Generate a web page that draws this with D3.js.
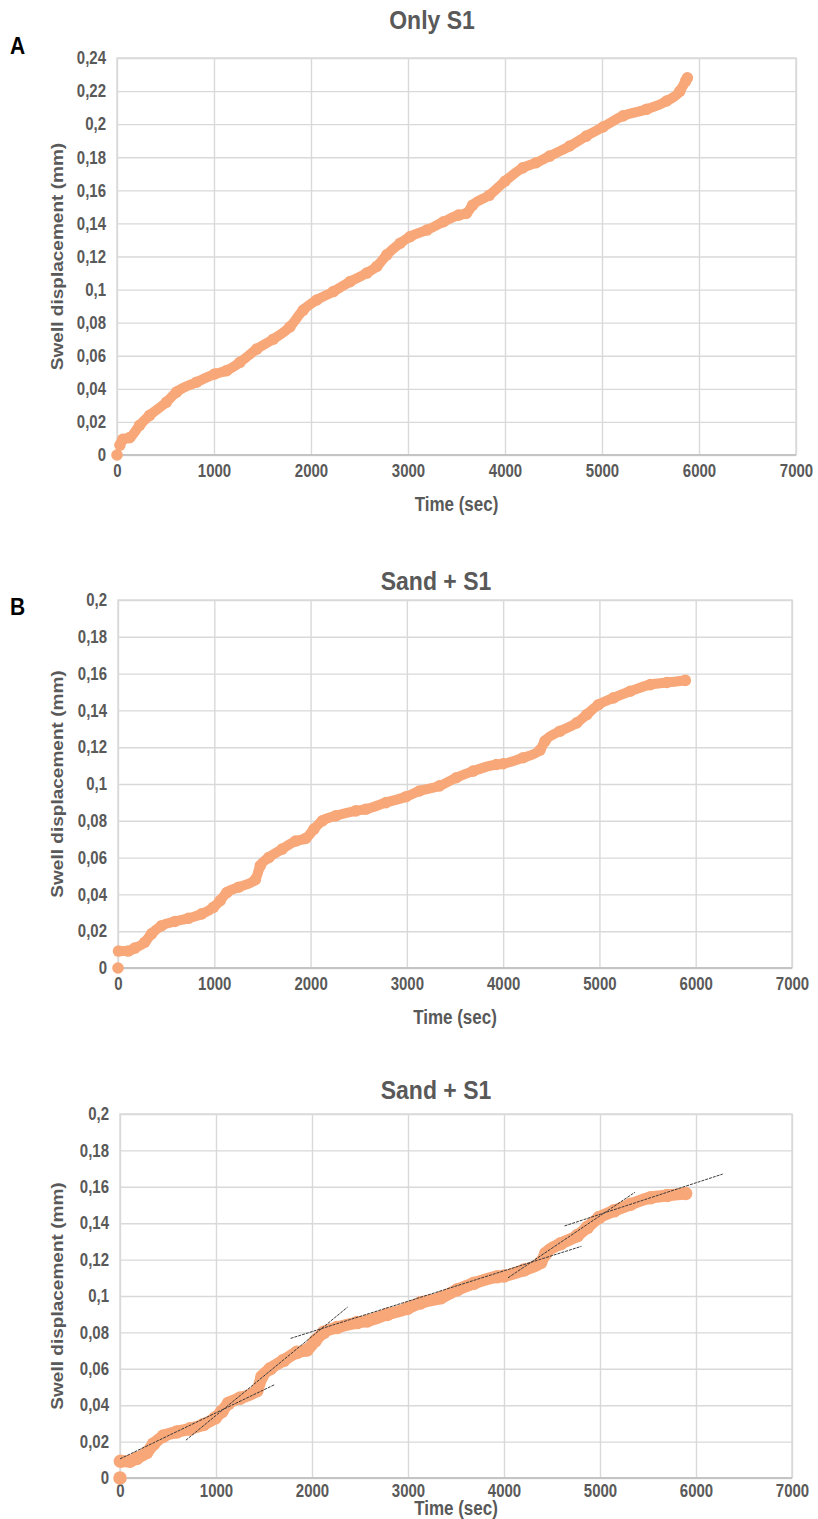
<!DOCTYPE html>
<html>
<head>
<meta charset="utf-8">
<script src="https://cdn.jsdelivr.net/npm/d3@7"></script>
<style>
  body { margin: 0; background: #fff; }
  svg text { font-family: "Liberation Sans", Arial, sans-serif; font-weight: bold; }
</style>
</head>
<body>
<svg id="chart" width="818" height="1519"></svg>
<script>
// data (time in s, swell in mm)
const timeTicks = [0, 1000, 2000, 3000, 4000, 5000, 6000, 7000]
const onlyS1Ticks = [0, 0.02, 0.04, 0.06, 0.08, 0.1, 0.12, 0.14, 0.16, 0.18, 0.2, 0.22, 0.24]
const sandS1Ticks = [0, 0.02, 0.04, 0.06, 0.08, 0.1, 0.12, 0.14, 0.16, 0.18, 0.2]

const onlyS1Time = [0, 30, 60, 130, 234, 337, 510, 613, 820, 1008, 1130, 1267, 1440, 1611, 1783, 1920,
  2059, 2230, 2403, 2575, 2678, 2781, 2919, 3022, 3194, 3366, 3521, 3600, 3666, 3838, 4000, 4183,
  4321, 4459, 4666, 4838, 5010, 5217, 5459, 5666, 5803, 5862, 5880]
const onlyS1Swell = [0, 0.006, 0.0095, 0.0105, 0.018, 0.024, 0.032, 0.038, 0.044, 0.049, 0.051, 0.056, 0.064, 0.07, 0.0775, 0.0876,
  0.0937, 0.0988, 0.1048, 0.11, 0.114, 0.121, 0.128, 0.132, 0.136, 0.141, 0.145, 0.146, 0.151, 0.157, 0.1655, 0.1736,
  0.1767, 0.1807, 0.1868, 0.1928, 0.1983, 0.205, 0.209, 0.214, 0.22, 0.226, 0.228]

const sandS1Time = [0, 5, 104, 174, 278, 348, 452, 591, 730, 870, 991, 1061, 1130, 1252, 1426, 1478, 1565,
  1704, 1843, 1948, 2035, 2122, 2261, 2470, 2574, 2783, 2991, 3130, 3339, 3513, 3687, 3930, 4000,
  4208, 4382, 4434, 4590, 4764, 4868, 4990, 5146, 5319, 5528, 5701, 5892]
const sandS1Swell = [0, 0.0092, 0.0092, 0.0108, 0.014, 0.0186, 0.023, 0.0253, 0.027, 0.0294, 0.033, 0.0366, 0.041, 0.0439, 0.048, 0.0556, 0.06,
  0.0646, 0.069, 0.0704, 0.0755, 0.08, 0.0827, 0.0854, 0.0863, 0.0899, 0.0931, 0.0962, 0.099, 0.1034, 0.107, 0.1106, 0.111,
  0.1143, 0.1184, 0.1233, 0.1287, 0.1332, 0.1377, 0.1431, 0.1468, 0.1504, 0.154, 0.1552, 0.1563]

// linear trend segments drawn over the last panel
const trendT0 = [0, 687, 1777, 4042, 4631]
const trendV0 = [0.0105, 0.0208, 0.0767, 0.110, 0.1385]
const trendT1 = [1615, 2371, 4807, 5364, 6278]
const trendV1 = [0.0514, 0.0939, 0.1273, 0.157, 0.167]

const textColor = '#595959'
const gridColor = '#d9d9d9'
const orange = '#f8a778'

const fmtY = d => String(+d.toFixed(2)).replace('.', ',')

const svg = d3.select('#chart')

// the source figure is slightly stretched vertically, so the text is too
const stretch = 'scale(1,1.2)'

function drawPanel(p) {
  const width = p.right - p.left
  const height = p.bottom - p.top

  const x = d3.scaleLinear().domain([0, 7000]).range([p.left, p.right])
  const y = d3.scaleLinear().domain([0, p.yMax]).range([p.bottom, p.top])

  const g = svg.append('g')

  // horizontal grid + y labels
  const yAxis = g.append('g')
    .attr('transform', 'translate(' + p.left + ',0)')
    .call(d3.axisLeft(y).tickValues(p.yTicks).tickSize(-width).tickPadding(p.yPad).tickFormat(fmtY))
  yAxis.select('.domain').remove()
  yAxis.selectAll('line').attr('stroke', gridColor).attr('stroke-width', 1.4)
  yAxis.selectAll('text')
    .attr('fill', textColor)
    .attr('transform', stretch)
    .style('font-size', '15px')

  // vertical grid + x labels
  const xAxis = g.append('g')
    .attr('transform', 'translate(0,' + p.bottom + ')')
    .call(d3.axisBottom(x).tickValues(timeTicks).tickSize(-height).tickPadding(p.xPad).tickFormat(d3.format('d')))
  xAxis.select('.domain').remove()
  xAxis.selectAll('line').attr('stroke', gridColor).attr('stroke-width', 1.4)
  xAxis.selectAll('text')
    .attr('fill', textColor)
    .attr('transform', stretch)
    .style('font-size', '15px')

  g.append('rect')
    .attr('x', p.left).attr('y', p.top)
    .attr('width', width).attr('height', height)
    .attr('fill', 'none').attr('stroke', gridColor).attr('stroke-width', 1.4)

  g.append('line')
    .attr('x1', p.left).attr('x2', p.right)
    .attr('y1', p.bottom).attr('y2', p.bottom)
    .attr('stroke', '#c4c4c4').attr('stroke-width', 2)

  // the series: dense markers in the original, drawn as a thick band
  const pts = p.time.map((t, i) => [t, p.swell[i]])
  const line = d3.line().x(d => x(d[0])).y(d => y(d[1])).curve(d3.curveMonotoneX)

  g.append('path')
    .datum(pts.slice(1))
    .attr('d', line)
    .attr('fill', 'none')
    .attr('stroke', orange)
    .attr('stroke-width', p.band)
    .attr('stroke-linecap', 'round')
    .attr('stroke-linejoin', 'round')

  g.selectAll('circle.pt')
    .data(pts)
    .enter().append('circle')
    .attr('class', 'pt')
    .attr('cx', d => x(d[0]))
    .attr('cy', d => y(d[1]))
    .attr('r', p.band / 2 + 0.8)
    .attr('fill', orange)

  if (p.trends) {
    g.selectAll('line.trend')
      .data(trendT0.map((t, i) => [t, trendV0[i], trendT1[i], trendV1[i]]))
      .enter().append('line')
      .attr('class', 'trend')
      .attr('x1', d => x(d[0])).attr('y1', d => y(d[1]))
      .attr('x2', d => x(d[2])).attr('y2', d => y(d[3]))
      .attr('stroke', '#3a3a3a')
      .attr('stroke-width', 1)
      .attr('stroke-dasharray', '3,1')
  }

  // titles
  g.append('text')
    .attr('transform', 'translate(' + p.titleX + ',' + p.titleY + ') scale(1,1.15)')
    .attr('text-anchor', 'middle')
    .attr('fill', textColor)
    .style('font-size', '23px')
    .text(p.title)

  g.append('text')
    .attr('transform', 'translate(' + (p.left + p.right) / 2 + ',' + p.xTitleY + ') scale(1,1.15)')
    .attr('text-anchor', 'middle')
    .attr('fill', textColor)
    .style('font-size', '17px')
    .text('Time (sec)')

  g.append('text')
    .attr('transform', 'translate(63,' + (p.top + p.bottom) / 2 + ') rotate(-90) scale(1.12,1)')
    .attr('text-anchor', 'middle')
    .attr('fill', textColor)
    .style('font-size', '17px')
    .text('Swell displacement (mm)')

  if (p.letter) {
    g.append('text')
      .attr('transform', 'translate(10,' + p.letterY + ') scale(1,1.15)')
      .attr('fill', '#000')
      .style('font-size', '21px')
      .text(p.letter)
  }
}

drawPanel({
  left: 117, right: 796, top: 58, bottom: 455, yMax: 0.24, yTicks: onlyS1Ticks,
  time: onlyS1Time, swell: onlyS1Swell, band: 10, yPad: 11, xPad: 8, xTitleY: 511,
  title: 'Only S1', titleX: 432, titleY: 29, letter: 'A', letterY: 54
})

drawPanel({
  left: 118, right: 792, top: 600, bottom: 968, yMax: 0.2, yTicks: sandS1Ticks,
  time: sandS1Time, swell: sandS1Swell, band: 10, yPad: 11, xPad: 8, xTitleY: 1024,
  title: 'Sand + S1', titleX: 436, titleY: 590, letter: 'B', letterY: 615
})

drawPanel({
  left: 120, right: 792, top: 1114, bottom: 1478, yMax: 0.2, yTicks: sandS1Ticks,
  time: sandS1Time, swell: sandS1Swell, band: 12, trends: true, yPad: 11, xPad: 5, xTitleY: 1515,
  title: 'Sand + S1', titleX: 436, titleY: 1099
})
</script>
</body>
</html>
